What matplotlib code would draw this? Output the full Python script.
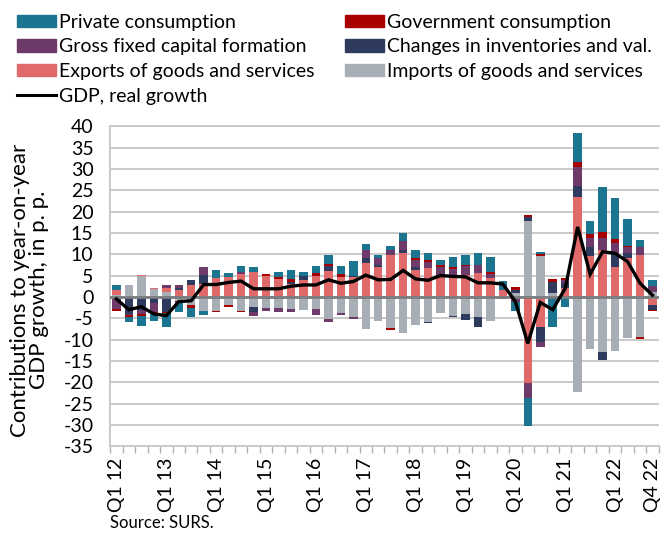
import matplotlib
matplotlib.use("Agg")
import matplotlib.pyplot as plt
import numpy as np
from matplotlib.patches import Patch
from matplotlib.lines import Line2D

# ---------------- data ----------------
tick_labels = ["Q1 12", "Q1 13", "Q1 14", "Q1 15", "Q1 16", "Q1 17",
               "Q1 18", "Q1 19", "Q1 20", "Q1 21", "Q1 22", "Q4 22"]
tick_index = [0, 4, 8, 12, 16, 20, 24, 28, 32, 36, 40, 43]

private = [1.3, -1.2, -2.4, -1.7, -3.3, -2.3, -2.3, -0.9, 2.0, 0.8, 1.4, 1.0,
           0.0, 1.2, 2.2, 1.1, 1.7, 2.0, 1.9, 3.4, 1.4, 0.6, 0.8, 1.7,
           2.0, 1.6, 1.3, 2.3, 2.3, 2.7, 3.5, 2.2, -2.1, -6.6, 0.5, -6.5,
           -2.0, 6.8, 3.0, 10.4, 9.6, 6.3, 1.7, 1.4]
government = [-0.3, -0.4, -0.5, -0.4, -0.3, -0.3, -0.6, 0.0, -0.3, -0.3, -0.3, 0.0,
              0.5, 0.6, 0.5, 0.0, 0.7, 0.6, 0.8, 0.0, 0.0, 0.0, -0.4, 0.0,
              0.4, 0.4, 0.3, 0.5, 0.3, 0.0, 0.4, 0.0, 0.6, 0.4, 0.6, 0.5,
              0.4, 1.2, 1.0, 1.6, 0.9, 0.3, -0.4, -0.3]
gfcf = [-2.3, -0.3, -1.0, -2.2, 0.9, 0.5, 0.0, 1.7, 0.0, 0.0, 0.6, -0.9,
        -0.8, -0.8, -0.8, 0.0, -1.4, -0.6, -0.5, -0.4, 2.0, 1.7, 1.3, 2.2,
        1.6, 1.5, 1.9, 2.0, 2.0, 2.0, 1.0, -0.5, -0.7, -3.5, -1.2, -0.6,
        0.8, 4.4, 2.1, 2.7, 2.5, 1.4, 1.8, 1.3]
inventories = [-0.6, -4.0, -3.0, -1.4, -3.5, 0.6, 1.2, 2.2, 0.0, 0.0, 0.0, -1.2,
               0.0, 0.0, 0.6, 0.8, 0.0, 1.1, 0.0, 0.4, 1.2, 0.6, 0.0, 0.8,
               0.8, -0.4, 0.6, -0.3, -1.4, -2.3, 0.0, 0.0, 0.9, 0.9, -3.5, 2.6,
               1.2, 2.7, 2.2, -1.9, 3.0, 1.2, 0.0, -1.2]
exports = [1.0, 0.0, 0.2, 0.2, 0.8, 1.6, 2.8, 3.0, 4.4, 4.7, 5.3, 5.9,
           4.9, 4.1, 3.0, 4.0, 4.9, 6.1, 4.6, 4.6, 7.9, 6.9, 9.8, 10.2,
           6.3, 6.7, 4.6, 4.6, 5.2, 5.5, 4.4, 1.5, -0.4, -20.2, -7.0, 0.0,
           2.0, 23.4, 9.5, 11.0, 7.1, 9.1, 9.8, -1.9]
imports = [0.5, 2.9, 4.9, 1.9, 1.2, -1.0, -1.9, -3.3, -3.3, -2.0, -3.2, -2.3,
           -2.5, -2.7, -2.8, -3.1, -2.9, -5.2, -3.8, -4.8, -7.5, -5.6, -7.3, -8.4,
           -6.6, -5.8, -3.7, -4.5, -4.0, -4.8, -5.6, 0.0, 0.8, 17.9, 9.5, 1.0,
           -0.4, -22.2, -12.3, -13.0, -12.8, -9.7, -9.5, 1.2]
gdp = [-0.5, -3.0, -2.3, -4.0, -4.4, -1.1, -0.9, 2.9, 2.9, 3.4, 3.7, 1.9,
       1.9, 1.9, 2.5, 2.8, 2.8, 4.0, 3.2, 3.6, 5.1, 4.0, 4.1, 6.2,
       4.2, 3.9, 5.0, 4.8, 4.7, 3.3, 3.3, 3.0, -1.1, -10.9, -1.3, -3.0,
       2.0, 16.4, 5.3, 10.6, 10.2, 8.3, 3.2, 0.4]

# ---------------- style ----------------
FONT = ["Lato", "DejaVu Sans"]
plt.rcParams["font.family"] = FONT

C_PRIV = "#1b7490"
C_GOV = "#a80000"
C_GFCF = "#6e3a6a"
C_INV = "#2f3b5e"
C_EXP = "#e06a69"
C_IMP = "#a8aeb5"

fig = plt.figure(figsize=(6.64, 5.35), dpi=100)
ax = fig.add_axes([0.166, 0.166, 0.826, 0.598])

n = len(gdp)
x = np.arange(n)
width = 0.68

series = [
    (imports, C_IMP, "Imports of goods and services"),
    (exports, C_EXP, "Exports of goods and services"),
    (inventories, C_INV, "Changes in inventories and val."),
    (gfcf, C_GFCF, "Gross fixed capital formation"),
    (government, C_GOV, "Government consumption"),
    (private, C_PRIV, "Private consumption"),
]

pos_base = np.zeros(n)
neg_base = np.zeros(n)
for vals, col, lab in series:
    v = np.array(vals, dtype=float)
    pos = np.where(v > 0, v, 0.0)
    neg = np.where(v < 0, v, 0.0)
    ax.bar(x, pos, width, bottom=pos_base, color=col, zorder=3, linewidth=0)
    ax.bar(x, neg, width, bottom=neg_base, color=col, zorder=3, linewidth=0)
    pos_base += pos
    neg_base += neg

ax.plot(x, gdp, color="black", lw=2.4, zorder=5, solid_joinstyle="miter")

ax.axhline(0, color="#7a7d80", lw=2.0, zorder=4)

ax.set_xlim(-0.5, n - 0.5)
ax.set_ylim(-35, 40)
ax.set_yticks(np.arange(-35, 41, 5))
ax.set_yticklabels([str(v) for v in range(-35, 41, 5)], fontsize=14)
ax.yaxis.grid(True, color="#c9c9c9", lw=1.4, zorder=0)
ax.set_axisbelow(True)
ax.tick_params(axis="y", length=0, pad=12)

ax.set_xticks(tick_index)
ax.set_xticklabels(tick_labels, rotation=90, fontsize=14)
ax.tick_params(axis="x", length=0, pad=8)
ax.set_xticks(np.arange(-0.5, n, 1), minor=True)
ax.tick_params(axis="x", which="minor", length=5, color="#b0b0b0", width=1.0)

for s in ["left", "bottom", "top", "right"]:
    ax.spines[s].set_color("#c9c9c9")
    ax.spines[s].set_linewidth(1.4)
ax.spines["right"].set_visible(False)

fig.text(0.044, 0.458, "Contributions to year-on-year\nGDP growth, in p. p.",
         rotation=90, ha="center", va="center", fontsize=16,
         linespacing=0.95, multialignment="center")

handles = [
    Patch(color=C_PRIV), Patch(color=C_GFCF), Patch(color=C_EXP),
    Line2D([0], [0], color="black", lw=2.2),
    Patch(color=C_GOV), Patch(color=C_INV), Patch(color=C_IMP),
]
labels = ["Private consumption", "Gross fixed capital formation",
          "Exports of goods and services", "GDP, real growth",
          "Government consumption", "Changes in inventories and val.",
          "Imports of goods and services"]
fig.legend(handles, labels, loc="upper left", bbox_to_anchor=(0.005, 1.0),
           ncol=2, frameon=False, fontsize=14, handlelength=2.0,
           handleheight=0.6, handletextpad=0.15, labelspacing=0.4,
           columnspacing=1.6, borderaxespad=0.3)

fig.text(0.166, 0.008, "Source: SURS.", fontsize=12, ha="left", va="bottom")

fig.savefig("out.png", dpi=100)
